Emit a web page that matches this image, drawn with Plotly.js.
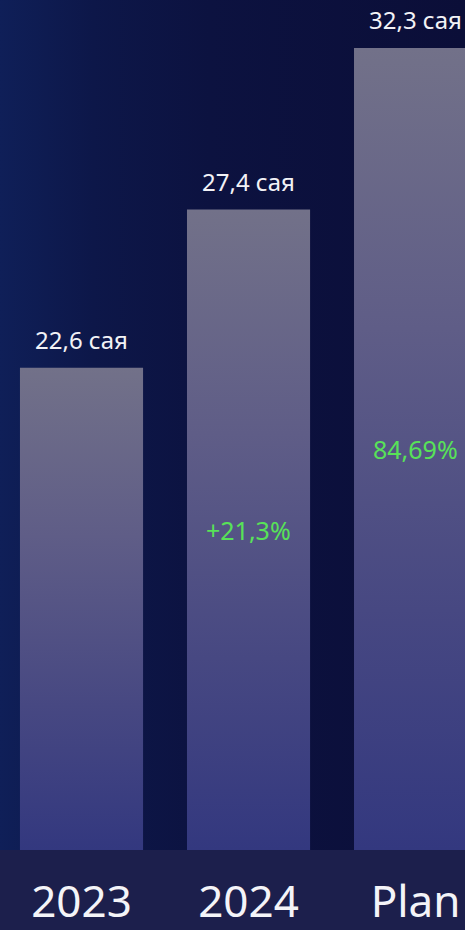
<!DOCTYPE html>
<html>
<head>
<meta charset="utf-8">
<script src="https://cdn.plot.ly/plotly-3.0.1.min.js"></script>
<style>
  html, body { margin: 0; padding: 0; width: 465px; height: 930px; overflow: hidden; }
  body {
    background:
      linear-gradient(to bottom, rgba(0,0,0,0) 850px, #1c1f4c 850px),
      linear-gradient(to right, #0f1f58 0%, #0d1749 20%, #0c1240 45%, #0b0e38 100%);
  }
  #chart { width: 465px; height: 930px; }
</style>
</head>
<body>
<div id="chart"></div>
<script>
// ---- data ----
const categories = ["2023", "2024", "Plan"];
const values = [22.6, 27.4, 32.3];
const valueLabels = ["22,6 сая", "27,4 сая", "32,3 сая"];
const innerLabels = ["", "+21,3%", "84,69%"];

const FONT = "Noto Sans, Open Sans, DejaVu Sans, sans-serif";
const Y_RANGE = [7.96, 33.76];

const trace = {
  type: "bar",
  x: categories,
  y: values,
  marker: { color: "#5a5a8a", line: { width: 0 } },
  hoverinfo: "skip",
  cliponaxis: true
};

const topNotes = categories.map((c, i) => ({
  x: i, y: values[i], xref: "x", yref: "y",
  text: valueLabels[i], showarrow: false,
  xanchor: "center", yanchor: "bottom", yshift: 10,
  font: { family: FONT, size: 24, color: "#f2f2f6" }
}));

// green labels sit in the middle of the visible part of each bar
const innerNotes = categories.map((c, i) => ({
  x: i, y: (values[i] + Y_RANGE[0]) / 2, xref: "x", yref: "y",
  text: innerLabels[i], showarrow: false,
  xanchor: "center", yanchor: "middle",
  font: { family: FONT, size: 25, color: "#58e258" }
})).filter(a => a.text);

const layout = {
  width: 465, height: 930,
  margin: { l: 0, r: 0, t: 0, b: 80, pad: 0 },
  paper_bgcolor: "rgba(0,0,0,0)",
  plot_bgcolor: "rgba(0,0,0,0)",
  showlegend: false,
  bargap: 0.263,
  xaxis: {
    type: "category",
    range: [-0.488, 2.296],
    showgrid: false, zeroline: false, showline: false, ticks: "",
    tickfont: { family: FONT, size: 44, color: "#f4f4f8" },
    ticklabelstandoff: 22,
    fixedrange: true
  },
  yaxis: {
    range: Y_RANGE,
    visible: false,
    showgrid: false, zeroline: false,
    fixedrange: true
  },
  annotations: topNotes.concat(innerNotes)
};

Plotly.newPlot("chart", [trace], layout, { displayModeBar: false, staticPlot: true }).then(gd => {
  const svg = gd.querySelector("svg.main-svg");
  const NS = "http://www.w3.org/2000/svg";
  let defs = svg.querySelector("defs");
  if (!defs) { defs = document.createElementNS(NS, "defs"); svg.insertBefore(defs, svg.firstChild); }
  const plotH = gd._fullLayout._size.h;
  gd.querySelectorAll(".bars .point path").forEach((p, i) => {
    const bb = p.getBBox();
    const top = bb.y;
    const bottom = Math.min(bb.y + bb.height, plotH);
    const grad = document.createElementNS(NS, "linearGradient");
    grad.setAttribute("id", "barGrad" + i);
    grad.setAttribute("gradientUnits", "userSpaceOnUse");
    grad.setAttribute("x1", "0"); grad.setAttribute("y1", String(top));
    grad.setAttribute("x2", "0"); grad.setAttribute("y2", String(bottom));
    [["0", "#727189"], ["0.35", "#5f5d87"], ["0.7", "#474882"], ["1", "#33387f"]].forEach(([o, c]) => {
      const s = document.createElementNS(NS, "stop");
      s.setAttribute("offset", o); s.setAttribute("stop-color", c);
      grad.appendChild(s);
    });
    defs.appendChild(grad);
    p.style.fill = "url(#barGrad" + i + ")";
  });
});
</script>
</body>
</html>
